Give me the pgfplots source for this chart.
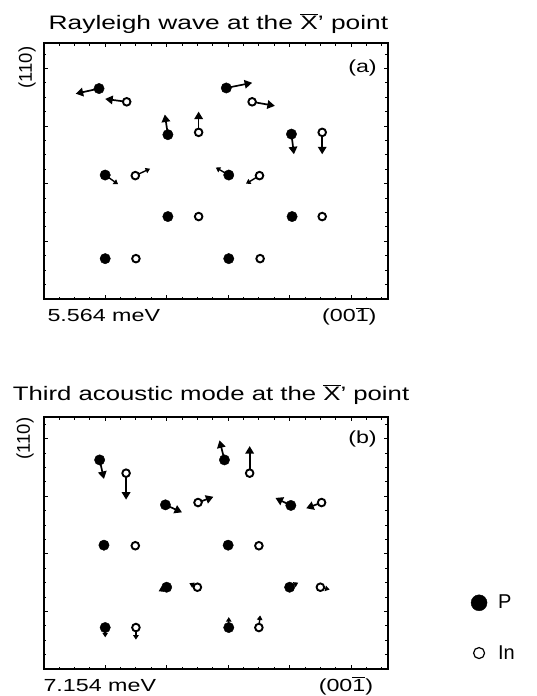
\documentclass[border=0pt]{standalone}
\usepackage{fontspec}
\setmainfont{Liberation Sans}
\usepackage{graphicx}
\usepackage{pgfplots}
\pgfplotsset{compat=1.18}
\usetikzlibrary{arrows.meta}

% the scanned lettering is set wide
\newcommand{\wide}[2][1.33]{\scalebox{#1}[1]{#2}}

\pgfplotsset{
  panel/.style={
    scale only axis, width=344.3pt, anchor=north west,
    xmin=0, xmax=5.6, ymin=0,
    xtick={0,...,6}, ytick={0,...,5},
    minor x tick num=3, minor y tick num=3,
    xticklabels={}, yticklabels={},
    tick align=inside, xtick pos=both, ytick pos=both,
    major tick length=4pt, minor tick length=2.5pt,
    axis line style={line width=1.6pt},
    every tick/.style={black, line width=0.9pt},
    clip=false,
  },
  longarrow/.style={forget plot, black, line width=1.7pt,
    -{Triangle[length=7.5pt,width=8.5pt]},
    quiver={u=\thisrow{u}, v=\thisrow{v}}},
  shortarrow/.style={forget plot, black, line width=1.4pt,
    -{Triangle[length=4.5pt,width=5.5pt]},
    quiver={u=\thisrow{u}, v=\thisrow{v}}},
  Patom/.style={forget plot, only marks, mark=*, mark size=5.2pt, black},
  Inatom/.style={forget plot, only marks, mark=*, mark size=3.8pt,
    mark options={fill=white, draw=black, line width=1.9pt}},
}

\begin{document}
\begin{tikzpicture}
\useasboundingbox (0,0) rectangle (536pt,-696pt);

% ---------------- (a) Rayleigh wave, 5.564 meV ----------------
\begin{axis}[panel, at={(43.7pt,-43pt)}, height=256pt, ymax=4.44]
  \addplot[longarrow] table {
    x    y    u     v
    0.90 3.65 -0.38 -0.09
    1.35 3.42 -0.35  0.05
    2.02 2.85 -0.05  0.35
    2.52 2.89  0.00  0.36
    2.97 3.66  0.42  0.09
    3.39 3.42  0.37 -0.07
    4.03 2.86  0.04 -0.35
    4.53 2.89  0.00 -0.38
  };
  \addplot[shortarrow] table {
    x    y    u     v
    1.00 2.15  0.21 -0.16
    1.49 2.14  0.24  0.12
    3.01 2.15 -0.21  0.13
    3.51 2.14 -0.22 -0.14
  };
  \addplot[Patom] coordinates {
    (0.90,3.65) (2.97,3.66) (2.02,2.85) (4.03,2.86)
    (1.00,2.15) (3.01,2.15) (2.02,1.43) (4.04,1.43)
    (1.00,0.70) (3.01,0.70)
  };
  \addplot[Inatom] coordinates {
    (1.35,3.42) (3.39,3.42) (2.52,2.89) (4.53,2.89)
    (1.49,2.14) (3.51,2.14) (2.52,1.43) (4.53,1.43)
    (1.50,0.70) (3.52,0.70)
  };
  \node[anchor=east, inner sep=0, font=\fontsize{17.5}{20}\selectfont]
    at (axis cs:5.42,4) {\wide{(a)}};
\end{axis}

% ---------------- (b) third acoustic mode, 7.154 meV ----------------
\begin{axis}[panel, at={(43.7pt,-417pt)}, height=252pt, ymax=4.375,
    legend style={draw=none, fill=none, at={(1.232,0.163)}, anchor=west,
      row sep=31pt, column sep=9pt, font=\fontsize{20}{23}\selectfont},
    legend cell align=left]
  \addlegendimage{only marks, mark=*, mark size=8pt, black}
  \addlegendentry{P}
  \addlegendimage{only marks, mark=*, mark size=5.5pt,
    mark options={fill=white, draw=black, line width=1.2pt}}
  \addlegendentry{In}
  \addplot[longarrow] table {
    x    y    u     v
    0.91 3.63  0.07 -0.33
    1.34 3.40  0.00 -0.46
    2.94 3.63 -0.08  0.34
    3.35 3.40  0.00  0.47
    1.98 2.85  0.27 -0.13
    2.51 2.89  0.25  0.10
    4.02 2.84 -0.25  0.13
    4.52 2.89 -0.25 -0.10
  };
  \addplot[shortarrow] table {
    x    y    u     v
    2.00 1.42 -0.13 -0.07
    2.50 1.42 -0.13  0.07
    4.00 1.42  0.14  0.08
    4.50 1.42  0.15 -0.04
    1.00 0.72  0.00 -0.17
    1.50 0.72  0.00 -0.21
    3.01 0.72  0.00  0.18
    3.50 0.72  0.02  0.21
  };
  \addplot[Patom] coordinates {
    (0.91,3.63) (2.94,3.63) (1.98,2.85) (4.02,2.84)
    (0.98,2.15) (3.00,2.15) (2.00,1.42) (4.00,1.42)
    (1.00,0.72) (3.01,0.72)
  };
  \addplot[Inatom] coordinates {
    (1.34,3.40) (3.35,3.40) (2.51,2.89) (4.52,2.89)
    (1.49,2.14) (3.50,2.14) (2.50,1.42) (4.50,1.42)
    (1.50,0.72) (3.50,0.72)
  };
  \node[anchor=east, inner sep=0, font=\fontsize{17.5}{20}\selectfont]
    at (axis cs:5.42,4) {\wide{(b)}};
\end{axis}

% titles and axis captions
\begin{scope}[every node/.style={inner sep=0}]
  \node[anchor=base west, font=\fontsize{19.5}{22}\selectfont] at (48.5pt,-29pt)
    {\wide[1.35]{Rayleigh wave at the $\overline{\mbox{X}}$' point}};
  \node[anchor=base west, font=\fontsize{19.5}{22}\selectfont] at (12.7pt,-400pt)
    {\wide[1.32]{Third acoustic mode at the $\overline{\mbox{X}}$' point}};
  \node[rotate=90, font=\fontsize{18.5}{21}\selectfont] at (27pt,-67.5pt) {(110)};
  \node[rotate=90, font=\fontsize{18.5}{21}\selectfont] at (25pt,-438.5pt) {(110)};
  \node[anchor=base west, font=\fontsize{17.5}{20}\selectfont] at (47.3pt,-321.7pt)
    {\wide{5.564 meV}};
  \node[anchor=base east, font=\fontsize{17.5}{20}\selectfont] at (376.7pt,-321.7pt)
    {\wide{(00$\overline{\mbox{1}}$)}};
  \node[anchor=base west, font=\fontsize{17.5}{20}\selectfont] at (43.3pt,-691pt)
    {\wide{7.154 meV}};
  \node[anchor=base east, font=\fontsize{17.5}{20}\selectfont] at (373.3pt,-691pt)
    {\wide{(00$\overline{\mbox{1}}$)}};
\end{scope}
\end{tikzpicture}
\end{document}
